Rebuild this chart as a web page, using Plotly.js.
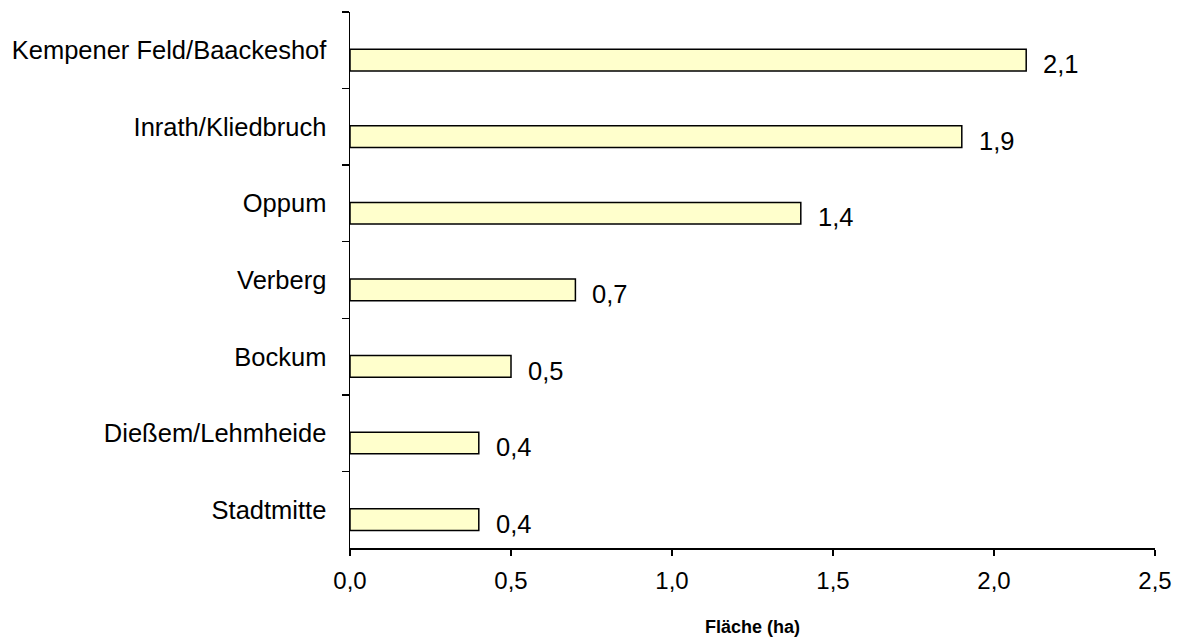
<!DOCTYPE html>
<html>
<head>
<meta charset="utf-8">
<script src="https://cdn.plot.ly/plotly-3.0.1.min.js"></script>
<style>
  html, body { margin: 0; padding: 0; background: #fff; }
  #chart { width: 1182px; height: 639px; }
</style>
</head>
<body>
<div id="chart"></div>
<script>
const categories = ["Kempener Feld/Baackeshof", "Inrath/Kliedbruch", "Oppum", "Verberg", "Bockum", "Dießem/Lehmheide", "Stadtmitte"];
const values = [2.1, 1.9, 1.4, 0.7, 0.5, 0.4, 0.4];
const xTickVals = [0, 0.5, 1.0, 1.5, 2.0, 2.5];
const xTitle = "Fläche (ha)";

const fmt = v => v.toFixed(1).replace('.', ',');

const trace = {
  type: 'bar',
  orientation: 'h',
  x: values,
  y: categories,
  width: 0.283,
  offset: -0.013,
  marker: { color: '#FFFFCC', line: { color: '#000000', width: 1.5 } },
  hoverinfo: 'x+y',
  showlegend: false
};

const annotations = categories.map((c, i) => ({
  x: values[i],
  y: c,
  xref: 'x',
  yref: 'y',
  text: fmt(values[i]),
  showarrow: false,
  xanchor: 'left',
  yanchor: 'middle',
  xshift: 15,
  yshift: -14,
  font: { family: 'Liberation Sans, Arial, sans-serif', size: 25.5, color: '#000' }
}));

const layout = {
  width: 1182,
  height: 639,
  margin: { l: 350, r: 27, t: 12, b: 91, pad: 0 },
  paper_bgcolor: '#ffffff',
  plot_bgcolor: '#ffffff',
  separators: ',.',
  font: { family: 'Liberation Sans, Arial, sans-serif', size: 24, color: '#000' },
  xaxis: {
    range: [0, 2.5],
    tickvals: xTickVals,
    ticktext: xTickVals.map(fmt),
    ticks: 'outside',
    ticklen: 6,
    tickwidth: 1.5,
    tickcolor: '#000',
    showline: true,
    linecolor: '#000',
    linewidth: 1.5,
    showgrid: false,
    zeroline: false,
    tickfont: { size: 24 },
    ticklabelstandoff: 5,
    title: { text: '<b>' + xTitle + '</b>', font: { size: 18 }, standoff: 27 }
  },
  yaxis: {
    type: 'category',
    categoryorder: 'array',
    categoryarray: categories,
    autorange: 'reversed',
    tickson: 'boundaries',
    ticks: 'outside',
    ticklen: 7,
    tickwidth: 1.5,
    tickcolor: '#000',
    showline: true,
    linecolor: '#000',
    linewidth: 1.5,
    showgrid: false,
    zeroline: false,
    tickfont: { size: 25.5 },
    ticklabelstandoff: 17
  },
  annotations: annotations
};

Plotly.newPlot('chart', [trace], layout, { displayModeBar: false, staticPlot: true });
</script>
</body>
</html>
